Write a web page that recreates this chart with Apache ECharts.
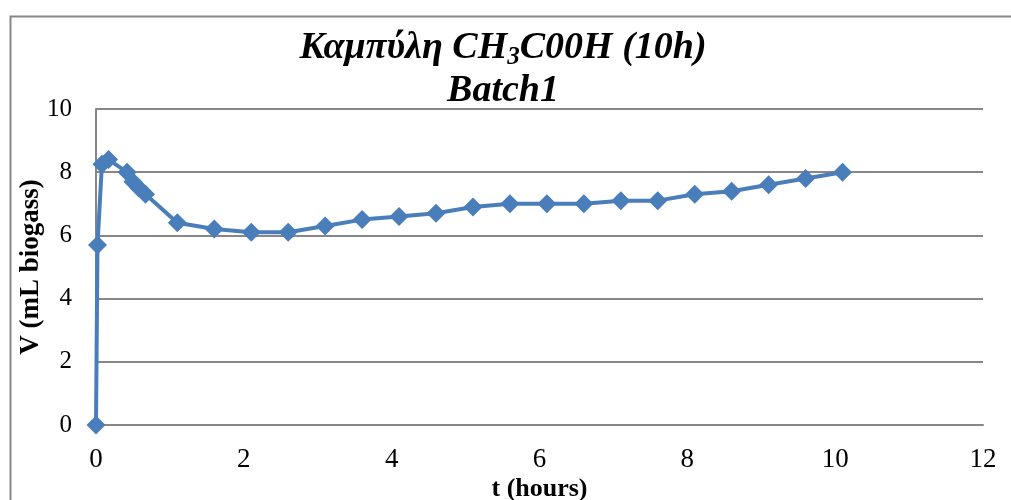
<!DOCTYPE html>
<html>
<head>
<meta charset="utf-8">
<script src="https://cdn.jsdelivr.net/npm/echarts@6/dist/echarts.min.js"></script>
<style>html,body{margin:0;padding:0;background:#fff}#c{width:1011px;height:500px}</style>
</head>
<body>
<div id="c"></div>
<script>
const tHours = [0, 0.02, 0.08, 0.17, 0.42, 0.5, 0.58, 0.67, 1.1, 1.6, 2.1, 2.6, 3.1, 3.6, 4.1, 4.6, 5.1, 5.6, 6.1, 6.6, 7.1, 7.6, 8.1, 8.6, 9.1, 9.6, 10.1];
const volume = [0, 5.7, 8.25, 8.4, 8.0, 7.7, 7.5, 7.3, 6.4, 6.2, 6.1, 6.1, 6.3, 6.5, 6.6, 6.7, 6.9, 7.0, 7.0, 7.0, 7.1, 7.1, 7.3, 7.4, 7.6, 7.8, 8.0];
const titleLine1 = ['Καμπύλη CH', '3', 'C00H (10h)'];
const titleLine2 = 'Batch1';
const xName = 't (hours)';
const yName = 'V (mL biogass)';

const chart = echarts.init(document.getElementById('c'), null, {renderer: 'canvas'});
const serif = 'Liberation Serif';
chart.setOption({
  animation: false,
  backgroundColor: '#fff',
  graphic: [{
    type: 'rect', left: 8, top: 14, shape: {width: 1100, height: 600},
    style: {fill: 'none', stroke: '#878787', lineWidth: 2}, silent: true
  }],
  title: {
    text: '{a|' + titleLine1[0] + '}{s|' + titleLine1[1] + '}{a|' + titleLine1[2] + '}\n{a|' + titleLine2 + '}',
    left: 498, textAlign: 'center', top: 22,
    textStyle: {
      rich: {
        a: {fontFamily: serif, fontWeight: 'bold', fontStyle: 'italic', fontSize: 38, color: '#000', lineHeight: 43},
        s: {fontFamily: serif, fontWeight: 'bold', fontStyle: 'italic', fontSize: 25, color: '#000', lineHeight: 43, verticalAlign: 'bottom', padding: [16, 0, 0, 0]}
      }
    }
  },
  grid: {left: 96, right: 28, top: 109, bottom: 75, containLabel: false, outerBoundsMode: 'none'},
  xAxis: {
    type: 'value', min: 0, max: 12, interval: 2,
    name: xName, nameLocation: 'middle', nameGap: 51, nameMoveOverlap: false,
    nameTextStyle: {fontFamily: serif, fontWeight: 'bold', fontSize: 26, color: '#000'},
    axisLine: {show: true, lineStyle: {color: '#878787', width: 2}},
    axisTick: {show: false},
    splitLine: {show: false},
    axisLabel: {fontFamily: serif, fontSize: 27, color: '#000', margin: 21}
  },
  yAxis: {
    type: 'value', min: 0, max: 10, interval: 2,
    name: yName, nameLocation: 'middle', nameGap: 51, nameRotate: 90, nameMoveOverlap: false,
    nameTextStyle: {fontFamily: serif, fontWeight: 'bold', fontSize: 27, color: '#000'},
    axisLine: {show: true, lineStyle: {color: '#878787', width: 2}},
    axisTick: {show: false},
    splitLine: {show: true, lineStyle: {color: '#878787', width: 2}},
    axisLabel: {fontFamily: serif, fontSize: 25, color: '#000', margin: 24}
  },
  series: [{
    type: 'line',
    data: tHours.map((t, i) => [t, volume[i]]),
    symbol: 'diamond', symbolSize: 19,
    lineStyle: {color: '#4A7EBB', width: 4},
    itemStyle: {color: '#4A7EBB'},
    z: 5
  }]
});
</script>
</body>
</html>
